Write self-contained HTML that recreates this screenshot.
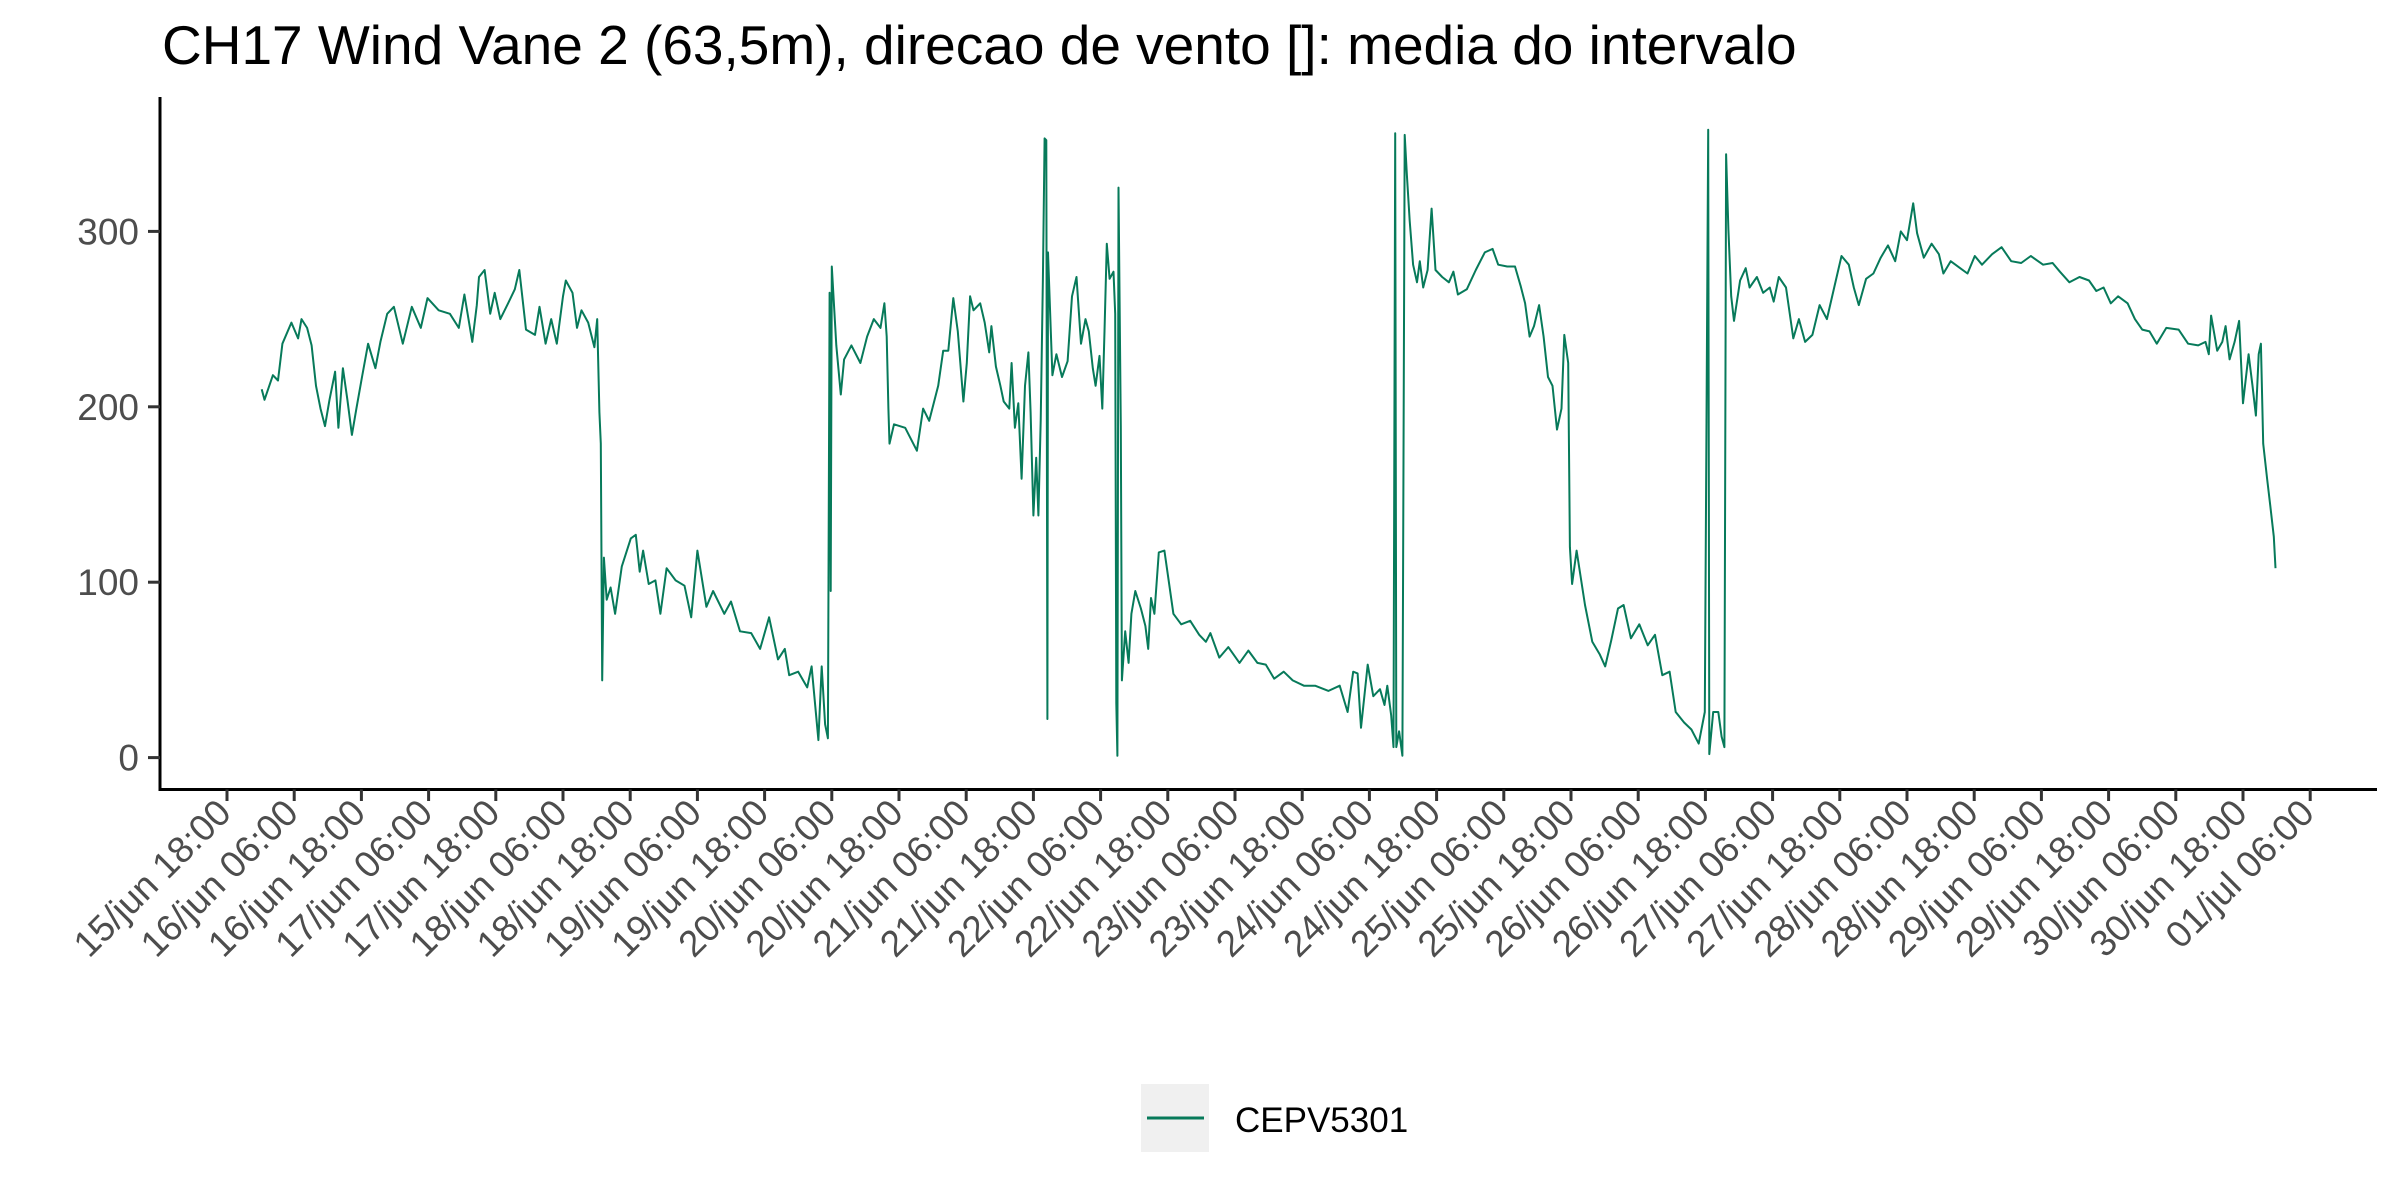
<!DOCTYPE html>
<html><head><meta charset="utf-8"><style>
html,body{margin:0;padding:0;background:#fff;}
svg{display:block;font-family:"Liberation Sans",Arial,sans-serif;}
</style></head><body>
<svg id="chart" width="2400" height="1200" viewBox="0 0 2400 1200">
<text x="162" y="64" font-size="55" fill="#000">CH17 Wind Vane 2 (63,5m), direcao de vento []: media do intervalo</text>
<g id="yaxis"></g>
<g id="xaxis"></g>
<g id="series"></g>
<g>
<rect x="1141" y="1084" width="68" height="68" fill="#f0f0f0"/>
<line x1="1147" y1="1118" x2="1204" y2="1118" stroke="#077a5a" stroke-width="3"/>
<text x="1235" y="1132" font-size="35" fill="#000">CEPV5301</text>
</g>
</svg>
<script>
// hours since 15/jun 18:00
const hours = [6.2,6.7,8.2,9.1,9.9,11.5,12.7,13.3,14.3,15.1,15.9,16.7,17.5,18.3,19.3,19.9,20.7,21.5,22.3,23.1,24.1,25.2,26.5,27.4,28.6,29.8,31.4,33.0,34.6,35.8,37.8,39.8,41.4,42.4,43.8,44.6,45.0,46.0,47.0,47.8,48.8,50.2,51.4,52.2,53.4,55.0,55.8,56.9,57.9,58.9,60.0,60.5,61.7,62.5,63.3,64.5,65.6,66.1,66.5,66.75,67.0,67.3,67.8,68.5,69.3,70.5,72.1,73.0,73.7,74.3,75.3,76.5,77.4,78.5,80.1,81.7,82.9,84.0,85.6,86.8,88.8,90.0,91.6,93.6,95.2,96.8,98.4,99.6,100.4,102,103.6,104.4,105.6,106.2,106.8,107.3,107.6,107.8,108.0,108.8,109.6,110.2,111.5,113.1,114.3,115.5,116.7,117.4,117.8,118.1,118.3,119.1,121.1,123.2,124.3,125.4,127,127.9,128.8,129.7,130.5,131.5,132.1,132.7,133.3,134.5,135.3,136.1,136.5,137.3,138.1,138.7,139.7,140.1,140.7,141.3,141.9,142.5,143.1,143.5,144,144.5,144.9,145.3,145.7,146,146.3,146.5,146.6,147.1,147.4,148.1,149.1,150.1,150.9,151.7,152.5,153.3,153.9,154.6,155.1,155.8,156.3,156.7,157.1,157.6,158.3,158.6,158.8,159,159.2,159.6,159.8,160.4,161,161.5,162.2,163.2,164,164.5,165,165.6,166.4,167.4,168.2,169,170.4,172,173.6,174.8,175.6,177.2,178.8,180.8,182.4,184,185.5,187,188.7,190.3,192.3,194.3,196.7,198.7,200.1,201.1,201.9,202.5,203.7,204.7,205.9,206.7,207.2,207.9,208.3,208.6,208.8,209.3,209.9,210.3,210.7,211.2,211.8,212.5,213,213.6,214.4,215.1,215.8,217,218.2,219,219.8,221.4,223,224.6,226,227,228.6,230,231,231.8,232.6,233.4,234.3,235.1,235.9,236.7,237.5,238.3,238.8,239.5,239.8,240.2,241,242.5,243.8,245.1,246.1,247.2,248.4,249.4,250.7,252.2,253.7,255,256.3,257.6,258.7,260.2,261.5,262.8,263.9,264.5,264.7,265.4,266.3,266.9,267.4,267.7,268.1,268.6,269.1,270.2,271.2,271.9,273.2,274.3,275.5,276.2,277.1,278.4,279.7,280.7,281.8,283.1,284.4,285.7,287,288.3,289.6,290.5,291.4,292.7,294,295.3,296.6,297.9,298.9,300,301.1,301.8,303,304.4,305.7,306.5,307.8,309.5,310.8,312.1,313.4,315.2,316.9,318.6,320.4,322.1,324.3,326,327.3,329,330.8,332.5,333.8,335.1,336.4,337.7,339.4,340.7,342,343.3,344.6,346.3,348.5,350.2,352,353.3,353.9,354.3,355.4,356.3,356.9,357.6,358.5,359.3,360,361,361.7,362.3,362.8,363.2,363.6,364.3,364.9,365.5,365.8];
const direction = [210,204,218,215,236,248,239,250,245,235,212,199,189,204,220,188,222,204,184,199,217,236,222,237,253,257,236,257,245,262,255,253,245,264,237,258,274,278,253,265,250,259,267,278,244,241,257,236,250,236,263,272,265,245,255,248,234,250,197,179,44,114,90,97,82,109,125,127,106,118,99,101,82,108,101,98,80,118,86,95,82,89,72,71,62,80,56,62,47,49,40,52,10,52,19,11,265,95,280,235,207,227,235,225,240,250,245,259,240,199,179,190,188,175,199,192,212,232,232,262,243,203,225,263,255,259,248,231,246,223,212,203,199,225,188,202,159,212,231,197,138,171,138,192,273,353,352,22,288,243,218,230,217,226,263,274,236,250,243,222,212,229,199,243,293,273,277,253,31,1,325,189,44,72,54,82,95,85,75,62,91,82,117,118,100,82,76,78,70,66,71,57,63,54,61,54,53,45,49,44,41,41,38,41,26,49,48,17,53,35,39,30,41,24,6,356,6,15,1,355,332,306,281,271,283,268,278,313,278,274,271,277,264,267,278,288,290,281,280,280,269,259,240,246,258,240,217,212,187,199,241,225,120,99,118,87,66,59,52,67,85,87,68,76,64,70,47,49,26,20,16,8,26,358,2,26,26,12,6,344,301,263,249,272,279,268,274,265,268,260,274,268,239,250,237,241,258,250,268,286,281,268,258,273,276,285,292,283,300,295,316,299,285,293,287,276,283,279,276,286,281,287,291,283,282,286,281,282,277,271,274,272,266,268,259,263,259,250,244,243,236,245,244,236,235,237,230,252,232,237,246,227,237,249,202,230,212,195,230,236,179,159,143,126,108];
const yTicks = [0,100,200,300];
const xTickLabels = ["15/jun 18:00","16/jun 06:00","16/jun 18:00","17/jun 06:00","17/jun 18:00","18/jun 06:00","18/jun 18:00","19/jun 06:00","19/jun 18:00","20/jun 06:00","20/jun 18:00","21/jun 06:00","21/jun 18:00","22/jun 06:00","22/jun 18:00","23/jun 06:00","23/jun 18:00","24/jun 06:00","24/jun 18:00","25/jun 06:00","25/jun 18:00","26/jun 06:00","26/jun 18:00","27/jun 06:00","27/jun 18:00","28/jun 06:00","28/jun 18:00","29/jun 06:00","29/jun 18:00","30/jun 06:00","30/jun 18:00","01/jul 06:00"];

const NS = "http://www.w3.org/2000/svg";
function xScale(h){ return 227 + h * 5.6; }
function yScale(v){ return 757.6 - v * 1.754; }
function mk(tag, attrs, parent){ const e=document.createElementNS(NS,tag); for(const k in attrs) e.setAttribute(k,attrs[k]); parent.appendChild(e); return e; }

const ya = document.getElementById('yaxis');
const xa = document.getElementById('xaxis');
const yl = mk('line',{x1:160,y1:97,x2:160,y2:791,stroke:'#000','stroke-width':3},ya);


yTicks.forEach(v=>{
  const y=yScale(v);
  const t=mk('line',{x1:148,y1:y,x2:160,y2:y,stroke:'#333','stroke-width':3},ya);
  
  
  const l=mk('text',{x:139,y:y+13,'font-size':37,fill:'#4d4d4d','text-anchor':'end'},ya);
  
  
  l.textContent=v;
});
const xl = mk('line',{x1:158.5,y1:789.5,x2:2377,y2:789.5,stroke:'#000','stroke-width':3},xa);


xTickLabels.forEach((lab,i)=>{
  const x=xScale(i*12);
  const t=mk('line',{x1:x,y1:789.5,x2:x,y2:801,stroke:'#333','stroke-width':3},xa);
  
  
  const l=mk('text',{x:x+6,y:815,'font-size':37,fill:'#4d4d4d','text-anchor':'end',transform:`rotate(-45 ${x+6} 815)`},xa);
  
  
  l.textContent=lab;
});
const s = document.getElementById('series');
const d = hours.map((h,i)=>(i?'L':'M')+xScale(h).toFixed(1)+' '+yScale(direction[i]).toFixed(1)).join(' ');
const p = mk('path',{d:d,fill:'none',stroke:'#077a5a','stroke-width':2,'stroke-linejoin':'round'},s);


</script>
</body></html>
